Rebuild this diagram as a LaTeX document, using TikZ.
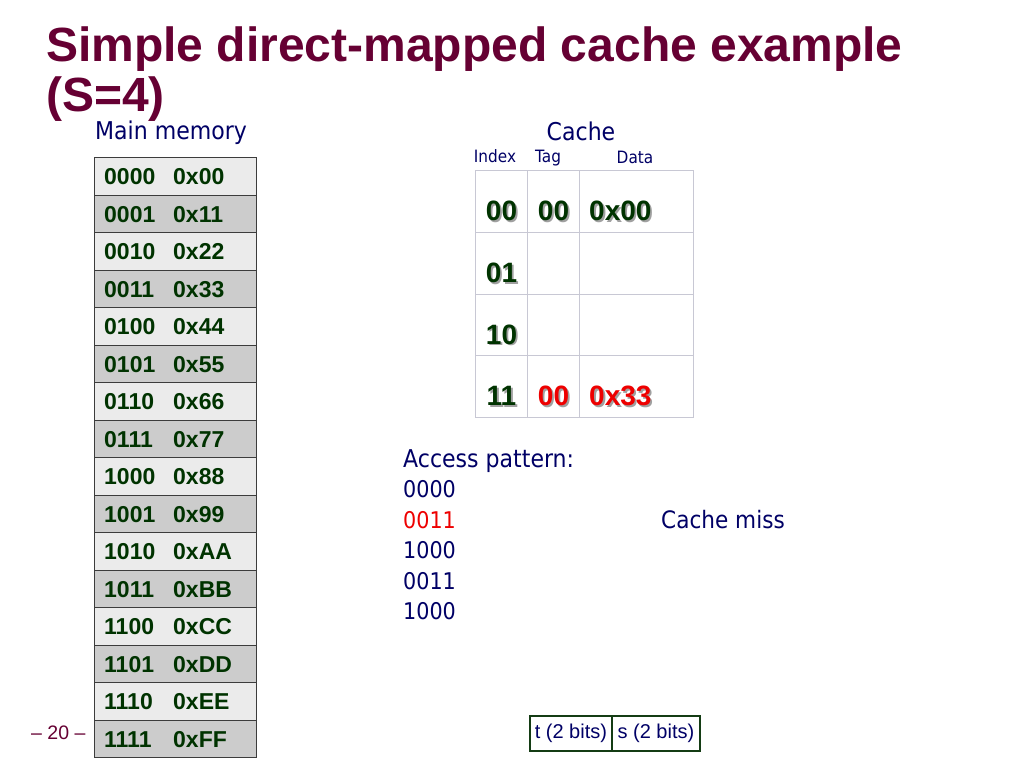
\documentclass[tikz,border=0pt]{standalone}
\usepackage{fontspec}
\setmainfont{Liberation Sans}
\newfontfamily\vfont[FakeStretch=0.9]{DejaVu Sans}
\definecolor{maroon}{RGB}{102,0,51}
\definecolor{navy}{RGB}{0,0,102}
\definecolor{dgreen}{RGB}{0,51,0}
\definecolor{lightrow}{RGB}{235,235,235}
\definecolor{darkrow}{RGB}{204,204,204}
\definecolor{rowline}{RGB}{60,60,60}
\definecolor{gridc}{RGB}{200,200,212}
\definecolor{boxgreen}{RGB}{20,60,20}
\definecolor{shadowc}{RGB}{160,160,160}
\definecolor{missred}{RGB}{238,0,0}
\begin{document}
\begin{tikzpicture}[x=1pt,y=-1pt,
  titlestyle/.style={anchor=base west,inner sep=0,text=maroon,font=\fontsize{48}{50}\selectfont\bfseries},
  labelstyle/.style={inner sep=0,text=navy,font=\vfont\fontsize{24.5}{26}\selectfont},
  smalllabel/.style={inner sep=0,anchor=base,text=navy,font=\vfont\fontsize{17}{18}\selectfont},
  memrow/.style={draw=rowline,line width=1.2pt,minimum width=162pt,minimum height=37.5pt,inner sep=0,anchor=north west},
  memtext/.style={anchor=base west,inner sep=0,text=dgreen,font=\fontsize{23}{24}\selectfont\bfseries},
  cell/.style={draw=gridc,line width=1pt,inner sep=0,anchor=north west},
  ctext/.style={anchor=base,inner sep=0,font=\fontsize{28}{30}\selectfont\bfseries},
  cshadow/.style={ctext,text=shadowc,xshift=1.8pt,yshift=-1.8pt},
  patt/.style={anchor=base west,inner sep=0,text=navy,font=\vfont\fontsize{23}{24}\selectfont},
  bitbox/.style={draw=boxgreen,line width=1.8pt,minimum height=35pt,inner sep=0,anchor=north west,text=navy,font=\fontsize{20}{22}\selectfont}
]
\useasboundingbox[fill=white] (0,0) rectangle (1024,768);

% title
\node[titlestyle] (title1) at (46,62) {Simple direct-mapped cache example};
\node[titlestyle] (title2) at (46,111) {(S=4)};

% main memory
\node[labelstyle,anchor=base west] (mmlabel) at (95,139) {Main memory};
\foreach \i/\b/\h in {0/0000/00,1/0001/11,2/0010/22,3/0011/33,4/0100/44,5/0101/55,6/0110/66,7/0111/77,8/1000/88,9/1001/99,10/1010/AA,11/1011/BB,12/1100/CC,13/1101/DD,14/1110/EE,15/1111/FF}{
  \ifodd\i \def\rc{darkrow}\else\def\rc{lightrow}\fi
  \pgfmathsetmacro\yy{157+37.5*\i}
  \node[memrow,fill=\rc] (m\i) at (94,\yy) {};
  \node[memtext] (mb\i) at ([xshift=10pt,yshift=-8.3pt]m\i.west) {\b};
  \node[memtext] (mh\i) at ([xshift=79pt,yshift=-8.3pt]m\i.west) {0x\h};
}

% cache
\node[labelstyle,anchor=base] (cachelabel) at (581,140) {Cache};
\node[smalllabel] (idxlabel) at (495,162) {Index};
\node[smalllabel] (taglabel) at (548,162) {Tag};
\node[smalllabel] (datalabel) at (635,163) {Data};

\foreach \r/\top/\h in {0/170/62,1/232/62,2/294/61,3/355/62}{
  \node[cell,minimum width=52pt,minimum height=\h pt] (ci\r) at (475,\top) {};
  \node[cell,minimum width=52pt,minimum height=\h pt] (ct\r) at (527,\top) {};
  \node[cell,minimum width=114pt,minimum height=\h pt] (cd\r) at (579,\top) {};
}
\foreach \r/\t in {0/00,1/01,2/10,3/11}{
  \node[cshadow] (sis\r) at ([yshift=-19pt]ci\r.center) {\t};
  \node[ctext,text=dgreen] (si\r) at ([yshift=-19pt]ci\r.center) {\t};
}
\node[cshadow] (st0s) at ([yshift=-19pt]ct0.center) {00};
\node[ctext,text=dgreen] (st0) at ([yshift=-19pt]ct0.center) {00};
\node[cshadow,anchor=base west] (sd0s) at ([xshift=10pt,yshift=-19pt]cd0.west) {0x00};
\node[ctext,anchor=base west,text=dgreen] (sd0) at ([xshift=10pt,yshift=-19pt]cd0.west) {0x00};
\node[cshadow] (st3s) at ([yshift=-19pt]ct3.center) {00};
\node[ctext,text=missred] (st3) at ([yshift=-19pt]ct3.center) {00};
\node[cshadow,anchor=base west] (sd3s) at ([xshift=10pt,yshift=-19pt]cd3.west) {0x33};
\node[ctext,anchor=base west,text=missred] (sd3) at ([xshift=10pt,yshift=-19pt]cd3.west) {0x33};

% access pattern
\node[patt,font=\vfont\fontsize{24.5}{26}\selectfont] (ap) at (403,467) {Access pattern:};
\node[patt] (a1) at (403,497.5) {0000};
\node[patt,text=missred] (a2) at (403,528) {0011};
\node[patt] (a3) at (403,558.5) {1000};
\node[patt] (a4) at (403,589) {0011};
\node[patt] (a5) at (403,619.5) {1000};
\node[patt,font=\vfont\fontsize{24}{26}\selectfont] (miss) at (661,528) {Cache miss};

% bit fields
\node[bitbox,minimum width=82pt] (tbits) at (529,715) {t (2 bits)};
\node[bitbox,minimum width=88pt] (sbits) at (611,715) {s (2 bits)};

% page number
\node[anchor=base west,inner sep=0,text=maroon,font=\fontsize{19.5}{20}\selectfont] (pnum) at (31,739) {– 20 –};
\end{tikzpicture}
\end{document}
